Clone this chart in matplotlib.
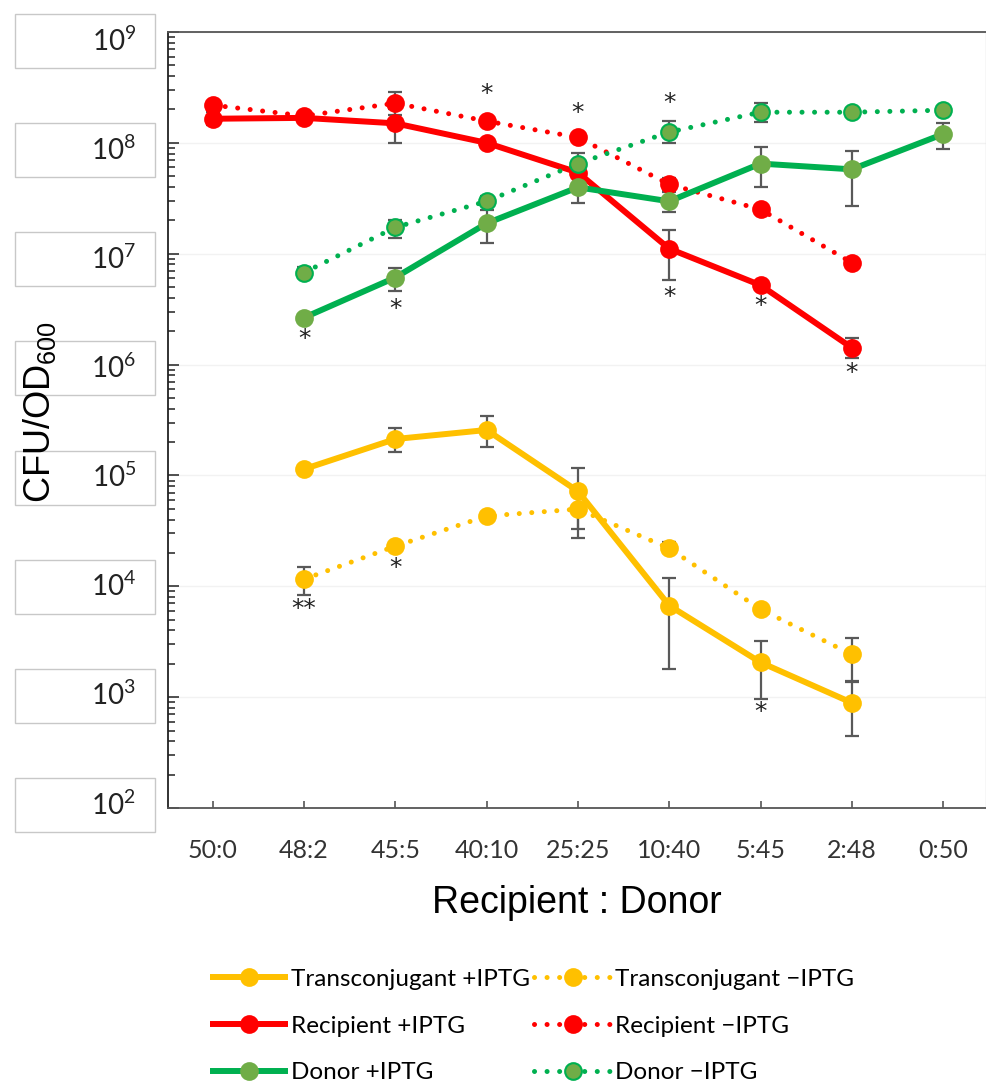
import numpy as np
import matplotlib
matplotlib.use('Agg')
import matplotlib.pyplot as plt
from matplotlib.patches import Rectangle

plt.rcParams['font.family'] = ['Lato', 'DejaVu Sans']
plt.rcParams['mathtext.default'] = 'regular'

nan = np.nan

# ------------------------------------------------------------------
# data
# ------------------------------------------------------------------
x_labels = ['50:0', '48:2', '45:5', '40:10', '25:25', '10:40', '5:45', '2:48', '0:50']
y_exponents = [9, 8, 7, 6, 5, 4, 3, 2]

trans_plus = [nan, 1.14e5, 2.13e5, 2.57e5, 7.2e4, 6.7e3, 2.06e3, 8.9e2, nan]
trans_plus_lo = [nan, nan, 1.63e5, 1.81e5, 2.7e4, 1.78e3, 9.7e2, 4.5e2, nan]
trans_plus_hi = [nan, nan, 2.69e5, 3.44e5, 1.17e5, 1.18e4, 3.18e3, 1.38e3, nan]

trans_minus = [nan, 1.16e4, 2.3e4, 4.3e4, 4.97e4, 2.2e4, 6.2e3, 2.43e3, nan]
trans_minus_lo = [nan, 8.3e3, nan, 4.0e4, 3.3e4, 2.0e4, 5.6e3, 1.4e3, nan]
trans_minus_hi = [nan, 1.49e4, nan, 4.7e4, 6.5e4, 2.5e4, 6.8e3, 3.4e3, nan]

recip_plus = [1.65e8, 1.68e8, 1.5e8, 1.0e8, 5.4e7, 1.11e7, 5.2e6, 1.42e6, nan]
recip_plus_lo = [1.44e8, nan, 1.0e8, nan, nan, 5.8e6, nan, 1.15e6, nan]
recip_plus_hi = [1.9e8, nan, 2.0e8, nan, nan, 1.62e7, nan, 1.75e6, nan]

recip_minus = [2.19e8, 1.75e8, 2.28e8, 1.57e8, 1.12e8, 4.22e7, 2.51e7, 8.3e6, nan]
recip_minus_lo = [nan, nan, 1.8e8, nan, nan, 3.7e7, nan, nan, nan]
recip_minus_hi = [nan, nan, 2.86e8, nan, nan, 4.8e7, nan, nan, nan]

donor_plus = [nan, 2.65e6, 6.1e6, 1.88e7, 3.97e7, 2.97e7, 6.5e7, 5.77e7, 1.2e8]
donor_plus_lo = [nan, nan, 4.65e6, 1.24e7, 2.84e7, 2.36e7, 3.97e7, 2.67e7, 8.75e7]
donor_plus_hi = [nan, nan, 7.5e6, 2.5e7, 5.2e7, 3.6e7, 9.1e7, 8.4e7, 1.5e8]

donor_minus = [nan, 6.76e6, 1.73e7, 2.97e7, 6.5e7, 1.25e8, 1.89e8, 1.89e8, 1.97e8]
donor_minus_lo = [nan, 6.0e6, 1.4e7, 2.7e7, 5.2e7, 1.0e8, 1.53e8, 1.75e8, 1.85e8]
donor_minus_hi = [nan, 7.6e6, 2.0e7, 3.3e7, 8.05e7, 1.57e8, 2.28e8, 2.05e8, 2.1e8]

# significance marks: category index, value, text
star_x = [1, 2, 3, 4, 5, 5, 6, 7, 1, 2, 6]
star_y = [1.71e6, 3.2e6, 2.75e8, 1.85e8, 2.28e8, 4.1e6, 3.4e6, 8.4e5, 6.3e3, 1.46e4, 7.4e2]
star_txt = ['*', '*', '*', '*', '*', '*', '*', '*', '**', '*', '*']

# ------------------------------------------------------------------
# figure
# ------------------------------------------------------------------
W, H = 987, 1084
fig = plt.figure(figsize=(W / 100, H / 100), dpi=100)
ax = fig.add_axes([168 / W, 1 - 808 / H, 818 / W, 776 / H])

x = np.arange(len(x_labels))
YEL, RED, GRN, OLV = '#FFC000', '#FF0000', '#00B050', '#70AD47'
dots = (0, (0.01, 2.5))

series = [
    # values, lo, hi, colour, marker face, marker edge, style, label
    (trans_plus, trans_plus_lo, trans_plus_hi, YEL, YEL, YEL, '-', 'Transconjugant +IPTG'),
    (trans_minus, trans_minus_lo, trans_minus_hi, YEL, YEL, YEL, dots, 'Transconjugant \u2212IPTG'),
    (recip_plus, recip_plus_lo, recip_plus_hi, RED, RED, RED, '-', 'Recipient +IPTG'),
    (recip_minus, recip_minus_lo, recip_minus_hi, RED, RED, RED, dots, 'Recipient \u2212IPTG'),
    (donor_plus, donor_plus_lo, donor_plus_hi, GRN, OLV, OLV, '-', 'Donor +IPTG'),
    (donor_minus, donor_minus_lo, donor_minus_hi, GRN, OLV, GRN, dots, 'Donor \u2212IPTG'),
]

handles = {}
for vals, lo, hi, col, mfc, mec, ls, lab in series:
    v = np.array(vals)
    lo = np.array(lo)
    hi = np.array(hi)
    m = np.isfinite(lo)
    ax.errorbar(x[m], v[m], yerr=[v[m] - lo[m], hi[m] - v[m]], fmt='none',
                ecolor='#595959', elinewidth=1.6, capsize=5, capthick=1.6, zorder=2)
    lw = 4.3 if ls == '-' else 3.6
    ln, = ax.plot(x, v, color=col, lw=lw, ls=ls, marker='o', ms=12,
                  mfc=mfc, mec=mec, mew=1.5, zorder=3,
                  dash_capstyle='round', solid_capstyle='butt', label=lab)
    handles[lab] = ln

for sx, sy, st in zip(star_x, star_y, star_txt):
    ax.text(sx, sy, st, ha='center', va='center', fontsize=18,
            family='DejaVu Sans', color='#222222', zorder=4)

ax.set_yscale('log')
ax.set_ylim(1e2, 1e9)
ax.set_xlim(-0.49, 8.47)
ax.set_xticks(x)
ax.set_xticklabels(x_labels, fontsize=18, color='#333333')
ax.tick_params(axis='x', direction='in', length=5, width=1.2, color='#555555', pad=22)
ax.tick_params(axis='y', which='major', direction='in', length=8, width=1.2,
               color='#333333', labelleft=False)
ax.tick_params(axis='y', which='minor', direction='in', length=5, width=1.2,
               color='#333333')
ax.yaxis.grid(True, which='major', color='#f2f2f2', lw=1)
ax.set_axisbelow(True)

ax.spines['left'].set_color('#222222')
ax.spines['left'].set_linewidth(1.3)
ax.spines['bottom'].set_color('#555555')
ax.spines['bottom'].set_linewidth(1.3)
ax.spines['top'].set_color('#555555')
ax.spines['top'].set_linewidth(1.3)
ax.spines['right'].set_color('#d9d9d9')
ax.spines['right'].set_linewidth(1.0)

# boxed y tick labels on the left
box_cy = np.linspace(41, 805, len(y_exponents))
for e, cy in zip(y_exponents, box_cy):
    fig.add_artist(Rectangle((15 / W, 1 - (cy + 27) / H), 140 / W, 54 / H,
                             transform=fig.transFigure, facecolor='white',
                             edgecolor='#c8c8c8', lw=1.0, zorder=1))
    fig.text(136 / W, 1 - cy / H, '$10^{%d}$' % e, ha='right', va='center',
             fontsize=20, color='#222222', zorder=2)

fig.text(40 / W, 1 - 412 / H, 'CFU/OD$_{600}$', rotation=90, ha='center', va='center',
         fontsize=26, family=['Liberation Sans', 'DejaVu Sans'], color='black', zorder=3)
fig.text(577 / W, 1 - 903 / H, 'Recipient : Donor', ha='center', va='center',
         fontsize=27, family=['Liberation Sans', 'DejaVu Sans'], color='black')

order = ['Transconjugant +IPTG', 'Recipient +IPTG', 'Donor +IPTG',
         'Transconjugant \u2212IPTG', 'Recipient \u2212IPTG', 'Donor \u2212IPTG']
fig.legend([handles[k] for k in order], order, ncol=2, loc='center',
           bbox_to_anchor=(532 / W, 1 - 1026 / H), frameon=False, fontsize=17.5,
           handlelength=3.2, handletextpad=0.1, columnspacing=0.2,
           labelspacing=1.05, borderpad=0)

fig.savefig('out.png', dpi=100)
